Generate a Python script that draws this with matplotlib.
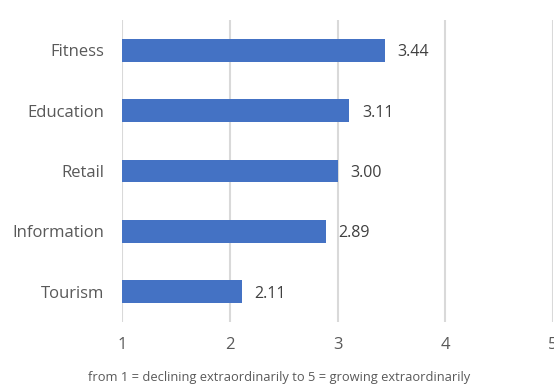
import matplotlib
matplotlib.use('Agg')
import matplotlib.pyplot as plt

plt.rcParams['font.family'] = ['Open Sans', 'DejaVu Sans']

sectors = ['Tourism', 'Information', 'Retail', 'Education', 'Fitness']
scores = [2.11, 2.89, 3.00, 3.11, 3.44]
xticks = [1, 2, 3, 4, 5]

txt = '#595959'

fig = plt.figure(figsize=(5.54, 3.87), dpi=100)
ax = fig.add_axes([122/554, 1-322/387, 431/554, 302/387])

ax.barh(range(len(sectors)), [s - 1 for s in scores], left=1, height=0.38,
        color='#4472C4', zorder=3)
for i, s in enumerate(scores):
    ax.annotate('%.2f' % s, (s, i), xytext=(9, -1.5), textcoords='offset points',
                va='center', ha='left', fontsize=11.5, color='#404040')

ax.set_xlim(1, 5)
ax.set_ylim(-0.5, len(sectors) - 0.5)
ax.set_xticks(xticks)
ax.set_xticklabels([str(t) for t in xticks])
ax.set_yticks(range(len(sectors)))
ax.set_yticklabels(sectors)
ax.grid(axis='x', color='#d9d9d9', linewidth=1.5, zorder=0)
ax.set_axisbelow(True)
for sp in ax.spines.values():
    sp.set_visible(False)
ax.tick_params(axis='both', length=0, labelsize=12, labelcolor=txt)
ax.tick_params(axis='y', pad=13)
ax.tick_params(axis='x', pad=11)

# axis caption centred on the figure, below the tick labels
fig.text(279/554, 1-378/387,
         'from 1 = declining extraordinarily to 5 = growing extraordinarily',
         fontsize=9.3, color=txt, ha='center', va='center')

fig.savefig('out.png', dpi=100)
